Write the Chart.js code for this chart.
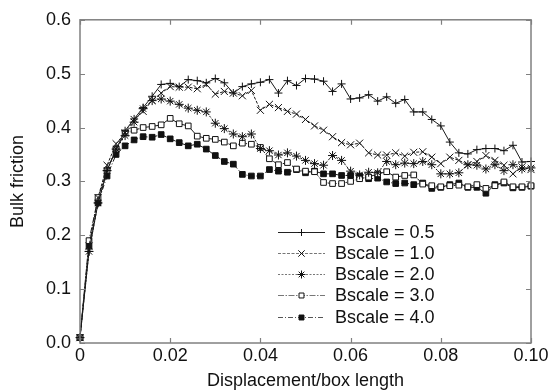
<!DOCTYPE html>
<html>
<head>
<meta charset="utf-8">
<script src="https://cdn.jsdelivr.net/npm/chart.js@4/dist/chart.umd.min.js"></script>
<style>
html,body{margin:0;padding:0;background:#fff;}
#wrap{width:551px;height:390px;}
</style>
</head>
<body>
<div id="wrap"><canvas id="c" width="551" height="390"></canvas></div>
<script>
// Displacement/box length (x values)
const displacement = [0,0.002,0.004,0.006,0.008,0.010,0.012,0.014,0.016,0.018,0.020,0.022,0.024,0.026,0.028,0.030,0.032,0.034,0.036,0.038,0.040,0.042,0.044,0.046,0.048,0.050,0.052,0.054,0.056,0.058,0.060,0.062,0.064,0.066,0.068,0.070,0.072,0.074,0.076,0.078,0.080,0.082,0.084,0.086,0.088,0.090,0.092,0.094,0.096,0.098,0.100];

const bscale05 = [0.01,0.17,0.26,0.32,0.36,0.394,0.416,0.437,0.458,0.480,0.482,0.476,0.489,0.487,0.483,0.491,0.483,0.464,0.476,0.481,0.484,0.489,0.464,0.487,0.478,0.491,0.490,0.486,0.467,0.481,0.453,0.455,0.461,0.449,0.457,0.445,0.452,0.429,0.429,0.415,0.403,0.373,0.353,0.351,0.359,0.361,0.361,0.357,0.367,0.336,0.337];
const bscale10 = [0.01,0.18,0.27,0.33,0.37,0.390,0.415,0.430,0.450,0.464,0.476,0.475,0.475,0.472,0.480,0.462,0.467,0.464,0.459,0.469,0.432,0.443,0.437,0.430,0.425,0.415,0.403,0.395,0.383,0.372,0.368,0.371,0.353,0.349,0.349,0.353,0.347,0.354,0.355,0.345,0.333,0.345,0.339,0.331,0.337,0.348,0.339,0.330,0.314,0.327,0.322];
const bscale20 = [0.01,0.17,0.26,0.32,0.36,0.385,0.410,0.435,0.450,0.453,0.449,0.443,0.436,0.432,0.429,0.408,0.398,0.388,0.383,0.388,0.361,0.357,0.349,0.353,0.347,0.339,0.333,0.330,0.348,0.339,0.319,0.312,0.317,0.316,0.337,0.331,0.334,0.333,0.337,0.331,0.314,0.314,0.316,0.331,0.330,0.323,0.331,0.320,0.331,0.323,0.325];
const bscale30 = [0.01,0.19,0.27,0.32,0.36,0.390,0.395,0.400,0.402,0.405,0.417,0.407,0.403,0.384,0.380,0.378,0.373,0.366,0.371,0.369,0.363,0.342,0.331,0.335,0.323,0.319,0.318,0.298,0.296,0.296,0.300,0.305,0.308,0.314,0.318,0.308,0.311,0.312,0.295,0.292,0.290,0.292,0.293,0.290,0.294,0.287,0.292,0.299,0.290,0.290,0.292];
const bscale40 = [0.01,0.18,0.26,0.31,0.35,0.366,0.377,0.383,0.382,0.387,0.379,0.372,0.366,0.369,0.360,0.348,0.337,0.332,0.313,0.310,0.310,0.322,0.319,0.317,0.322,0.316,0.319,0.314,0.314,0.311,0.311,0.310,0.305,0.306,0.299,0.296,0.297,0.294,0.297,0.287,0.289,0.294,0.297,0.289,0.289,0.278,0.294,0.297,0.288,0.289,0.291];

const seriesLabels = ['Bscale = 0.5','Bscale = 1.0','Bscale = 2.0','Bscale = 3.0','Bscale = 4.0'];
const xTickValues = [0,0.02,0.04,0.06,0.08,0.10];
const yTickValues = [0.0,0.1,0.2,0.3,0.4,0.5,0.6];

const FONT = '"Liberation Sans", Arial, Helvetica, sans-serif';
const seriesData = [bscale05,bscale10,bscale20,bscale30,bscale40];
const styles = [
  {ps:'cross', r:4, dash:[], fill:'#1a1a1a', lc:'#1a1a1a', legC:'#222'},
  {ps:'crossRot', r:5, dash:[3,1.5], fill:'#1a1a1a', lc:'#1a1a1a', legC:'#777'},
  {ps:'star', r:4.5, dash:[2,1.5], fill:'#1a1a1a', lc:'#1a1a1a', legC:'#777'},
  {ps:'rect', r:4, dash:[6,1.5,1.5,1.5], fill:'#ffffff', lc:'#1a1a1a', legC:'#777'},
  {ps:'rect', r:4, dash:[5,2,1,2], fill:'#111111', lc:'#1a1a1a', legC:'#555'}
];

const datasets = seriesData.map((arr,i)=>({
  label: seriesLabels[i],
  data: arr.map((v,j)=>({x:displacement[j], y:v})),
  borderColor: styles[i].lc,
  borderWidth: 1,
  borderDash: styles[i].dash,
  pointStyle: styles[i].ps,
  pointRadius: styles[i].r,
  pointBorderWidth: 1,
  pointBorderColor: '#111',
  pointBackgroundColor: styles[i].fill,
  tension: 0,
  clip: 8
}));

const framePlugin = {
  id:'frameTicks',
  afterDatasetsDraw(chart){
    const ctx = chart.ctx, a = chart.chartArea;
    const xs = chart.scales.x, ys = chart.scales.y;
    ctx.save();
    ctx.strokeStyle = '#808080';
    ctx.lineWidth = 1.5;
    ctx.setLineDash([]);
    ctx.strokeRect(a.left, a.top, a.right-a.left, a.bottom-a.top);
    ctx.lineWidth = 1.2;
    const tl = 5;
    ctx.beginPath();
    xTickValues.forEach(v=>{
      const px = Math.round(xs.getPixelForValue(v))+0.5;
      ctx.moveTo(px, a.bottom); ctx.lineTo(px, a.bottom-tl);
      ctx.moveTo(px, a.top); ctx.lineTo(px, a.top+tl);
    });
    yTickValues.forEach(v=>{
      const py = Math.round(ys.getPixelForValue(v))+0.5;
      ctx.moveTo(a.left, py); ctx.lineTo(a.left+tl, py);
      ctx.moveTo(a.right, py); ctx.lineTo(a.right-tl, py);
    });
    ctx.stroke();

    // legend
    const x0 = 278, x1 = 325, tx = 335;
    const rows = [232, 253, 274, 295, 317];
    ctx.font = '18px ' + FONT;
    ctx.textBaseline = 'middle';
    ctx.textAlign = 'left';
    chart.data.datasets.forEach((ds,i)=>{
      const y = rows[i];
      const st = styles[i];
      ctx.save();
      ctx.strokeStyle = st.legC;
      ctx.lineWidth = 1;
      ctx.setLineDash(st.dash);
      ctx.beginPath(); ctx.moveTo(x0, y+0.5); ctx.lineTo(x1, y+0.5); ctx.stroke();
      ctx.setLineDash([]);
      ctx.restore();
      ctx.save();
      ctx.strokeStyle = '#111';
      ctx.fillStyle = st.fill;
      ctx.lineWidth = 1;
      Chart.helpers.drawPoint(ctx, {pointStyle: st.ps, radius: i===0?3.5:(i>=3?3.5:st.r-0.5), borderWidth:1, rotation:0}, (x0+x1)/2, y+0.5);
      ctx.restore();
      ctx.fillStyle = '#111';
      ctx.fillText(ds.label, tx, y+1);
    });
    ctx.restore();
  }
};

new Chart(document.getElementById('c'), {
  type: 'line',
  data: { datasets },
  options: {
    responsive: false,
    animation: false,
    events: [],
    layout: { padding: { left: 0, right: 20, top: 16, bottom: 0 } },
    plugins: { legend: { display: false }, tooltip: { enabled: false } },
    scales: {
      x: {
        type: 'linear', min: 0, max: 0.1,
        grid: { display: false, drawTicks: false },
        border: { display: false },
        afterBuildTicks(scale){ scale.ticks = xTickValues.map(v=>({value:v})); },
        afterFit(scale){ scale.height = 47; },
        ticks: {
          padding: 2, color: '#111', maxRotation: 0, autoSkip: false,
          font: { family: FONT, size: 18 },
          callback: v => v === 0 ? '0' : Number(v).toFixed(2)
        },
        title: { display: true, text: 'Displacement/box length', color: '#111',
          font: { family: FONT, size: 18, lineHeight: 1 }, padding: 0 }
      },
      y: {
        min: 0, max: 0.6,
        grid: { display: false, drawTicks: false },
        border: { display: false },
        afterBuildTicks(scale){ scale.ticks = yTickValues.map(v=>({value:v})); },
        afterFit(scale){ scale.width = 80; },
        ticks: {
          padding: 9, color: '#111',
          font: { family: FONT, size: 18 },
          callback: v => Number(v).toFixed(1)
        },
        title: { display: true, text: 'Bulk friction', color: '#111',
          font: { family: FONT, size: 18, lineHeight: 1 }, padding: { top: 9, bottom: 0 } }
      }
    }
  },
  plugins: [framePlugin]
});
</script>
</body>
</html>
